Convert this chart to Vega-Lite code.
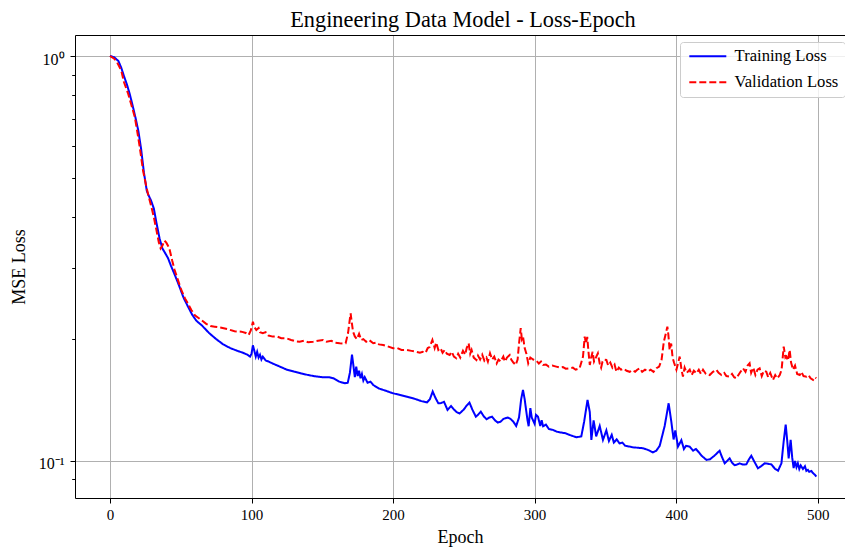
{
  "$schema": "https://vega.github.io/schema/vega-lite/v6.json",
  "width": 770,
  "height": 463,
  "autosize": {"type": "none"},
  "padding": {"left": 75, "top": 35, "right": 0, "bottom": 53},
  "background": "white",
  "title": {"text": "Engineering Data Model - Loss-Epoch", "font": "Liberation Serif", "fontSize": 22.3, "fontWeight": "normal", "color": "black", "anchor": "middle", "offset": 4, "dx": 3},
  "config": {
    "font": "Liberation Serif",
    "view": {"stroke": null},
    "legend": {
      "orient": "none", "legendX": 605, "legendY": 7, "title": null,
      "symbolType": "M-1,0H6.4", "symbolSize": 100, "symbolStrokeWidth": 2, "symbolFillColor": "transparent",
      "labelFont": "Liberation Serif", "labelFontSize": 16.6, "labelColor": "black",
      "labelOffset": 32, "rowPadding": 9, "padding": 6,
      "strokeColor": "#cccccc", "fillColor": "rgba(255,255,255,0.8)", "cornerRadius": 3
    }
  },
  "resolve": {"axis": {"x": "independent"}},
  "layer": [
    {
      "data": {"values": [
        {"s":"Training Loss","e":0,"l":1.0},{"s":"Training Loss","e":3,"l":0.993},{"s":"Training Loss","e":6,"l":0.972},{"s":"Training Loss","e":8,"l":0.935},{"s":"Training Loss","e":10,"l":0.89},{"s":"Training Loss","e":12,"l":0.85},{"s":"Training Loss","e":14,"l":0.805},{"s":"Training Loss","e":16,"l":0.755},{"s":"Training Loss","e":18,"l":0.705},{"s":"Training Loss","e":20,"l":0.655},{"s":"Training Loss","e":22,"l":0.59},{"s":"Training Loss","e":24,"l":0.515},{"s":"Training Loss","e":25,"l":0.49},{"s":"Training Loss","e":26,"l":0.465},{"s":"Training Loss","e":27,"l":0.455},{"s":"Training Loss","e":29,"l":0.44},{"s":"Training Loss","e":31,"l":0.42},{"s":"Training Loss","e":33,"l":0.385},{"s":"Training Loss","e":35,"l":0.355},{"s":"Training Loss","e":37,"l":0.335},{"s":"Training Loss","e":39,"l":0.326},{"s":"Training Loss","e":41,"l":0.317},{"s":"Training Loss","e":43,"l":0.304},{"s":"Training Loss","e":46,"l":0.287},{"s":"Training Loss","e":49,"l":0.27},{"s":"Training Loss","e":52,"l":0.253},{"s":"Training Loss","e":55,"l":0.241},{"s":"Training Loss","e":58,"l":0.23},{"s":"Training Loss","e":61,"l":0.222},{"s":"Training Loss","e":65,"l":0.216},{"s":"Training Loss","e":70,"l":0.207},{"s":"Training Loss","e":75,"l":0.2},{"s":"Training Loss","e":80,"l":0.194},{"s":"Training Loss","e":85,"l":0.19},{"s":"Training Loss","e":90,"l":0.187},{"s":"Training Loss","e":94,"l":0.185},{"s":"Training Loss","e":97,"l":0.183},{"s":"Training Loss","e":99,"l":0.181},{"s":"Training Loss","e":100,"l":0.184},{"s":"Training Loss","e":101,"l":0.193},{"s":"Training Loss","e":102,"l":0.187},{"s":"Training Loss","e":103,"l":0.181},{"s":"Training Loss","e":104,"l":0.186},{"s":"Training Loss","e":105,"l":0.18},{"s":"Training Loss","e":106,"l":0.183},{"s":"Training Loss","e":107,"l":0.178},{"s":"Training Loss","e":108,"l":0.181},{"s":"Training Loss","e":110,"l":0.177},{"s":"Training Loss","e":112,"l":0.176},{"s":"Training Loss","e":115,"l":0.174},{"s":"Training Loss","e":120,"l":0.171},{"s":"Training Loss","e":125,"l":0.168},{"s":"Training Loss","e":130,"l":0.1662},{"s":"Training Loss","e":135,"l":0.1645},{"s":"Training Loss","e":140,"l":0.163},{"s":"Training Loss","e":145,"l":0.1618},{"s":"Training Loss","e":150,"l":0.161},{"s":"Training Loss","e":155,"l":0.161},{"s":"Training Loss","e":158,"l":0.16},{"s":"Training Loss","e":162,"l":0.157},{"s":"Training Loss","e":166,"l":0.1555},{"s":"Training Loss","e":168,"l":0.156},{"s":"Training Loss","e":169.5,"l":0.165},{"s":"Training Loss","e":171,"l":0.183},{"s":"Training Loss","e":172,"l":0.172},{"s":"Training Loss","e":173,"l":0.161},{"s":"Training Loss","e":174,"l":0.171},{"s":"Training Loss","e":175,"l":0.162},{"s":"Training Loss","e":176,"l":0.167},{"s":"Training Loss","e":177,"l":0.16},{"s":"Training Loss","e":178,"l":0.164},{"s":"Training Loss","e":179,"l":0.158},{"s":"Training Loss","e":180,"l":0.161},{"s":"Training Loss","e":182,"l":0.156},{"s":"Training Loss","e":184,"l":0.157},{"s":"Training Loss","e":186,"l":0.154},{"s":"Training Loss","e":190,"l":0.151},{"s":"Training Loss","e":195,"l":0.149},{"s":"Training Loss","e":200,"l":0.1469},{"s":"Training Loss","e":205,"l":0.1455},{"s":"Training Loss","e":210,"l":0.144},{"s":"Training Loss","e":215,"l":0.1425},{"s":"Training Loss","e":220,"l":0.1405},{"s":"Training Loss","e":224,"l":0.1395},{"s":"Training Loss","e":226,"l":0.142},{"s":"Training Loss","e":228,"l":0.1484},{"s":"Training Loss","e":230,"l":0.143},{"s":"Training Loss","e":232,"l":0.1388},{"s":"Training Loss","e":234,"l":0.139},{"s":"Training Loss","e":236,"l":0.14},{"s":"Training Loss","e":238.5,"l":0.1336},{"s":"Training Loss","e":241,"l":0.1367},{"s":"Training Loss","e":243,"l":0.134},{"s":"Training Loss","e":245,"l":0.132},{"s":"Training Loss","e":247,"l":0.131},{"s":"Training Loss","e":250,"l":0.134},{"s":"Training Loss","e":252,"l":0.137},{"s":"Training Loss","e":254,"l":0.1393},{"s":"Training Loss","e":256,"l":0.134},{"s":"Training Loss","e":258.5,"l":0.1286},{"s":"Training Loss","e":260,"l":0.13},{"s":"Training Loss","e":262,"l":0.1323},{"s":"Training Loss","e":264,"l":0.129},{"s":"Training Loss","e":266,"l":0.1268},{"s":"Training Loss","e":268,"l":0.128},{"s":"Training Loss","e":270,"l":0.1286},{"s":"Training Loss","e":272,"l":0.126},{"s":"Training Loss","e":274,"l":0.1244},{"s":"Training Loss","e":276,"l":0.125},{"s":"Training Loss","e":278,"l":0.127},{"s":"Training Loss","e":281,"l":0.128},{"s":"Training Loss","e":283,"l":0.127},{"s":"Training Loss","e":285,"l":0.125},{"s":"Training Loss","e":287,"l":0.122},{"s":"Training Loss","e":289,"l":0.128},{"s":"Training Loss","e":290.5,"l":0.142},{"s":"Training Loss","e":291.8,"l":0.1497},{"s":"Training Loss","e":293,"l":0.142},{"s":"Training Loss","e":294,"l":0.1336},{"s":"Training Loss","e":295,"l":0.126},{"s":"Training Loss","e":295.8,"l":0.1218},{"s":"Training Loss","e":297,"l":0.135},{"s":"Training Loss","e":298,"l":0.128},{"s":"Training Loss","e":300,"l":0.1235},{"s":"Training Loss","e":301,"l":0.13},{"s":"Training Loss","e":302.4,"l":0.1286},{"s":"Training Loss","e":304,"l":0.122},{"s":"Training Loss","e":305,"l":0.126},{"s":"Training Loss","e":306,"l":0.1218},{"s":"Training Loss","e":308,"l":0.123},{"s":"Training Loss","e":310,"l":0.12},{"s":"Training Loss","e":313,"l":0.1193},{"s":"Training Loss","e":316,"l":0.118},{"s":"Training Loss","e":319,"l":0.1175},{"s":"Training Loss","e":322,"l":0.117},{"s":"Training Loss","e":326,"l":0.1155},{"s":"Training Loss","e":329.5,"l":0.1144},{"s":"Training Loss","e":333,"l":0.115},{"s":"Training Loss","e":335,"l":0.125},{"s":"Training Loss","e":337.4,"l":0.1415},{"s":"Training Loss","e":339,"l":0.132},{"s":"Training Loss","e":340.1,"l":0.1127},{"s":"Training Loss","e":341.7,"l":0.126},{"s":"Training Loss","e":343.5,"l":0.115},{"s":"Training Loss","e":346,"l":0.122},{"s":"Training Loss","e":348.3,"l":0.1127},{"s":"Training Loss","e":350.7,"l":0.119},{"s":"Training Loss","e":352.5,"l":0.112},{"s":"Training Loss","e":354.5,"l":0.116},{"s":"Training Loss","e":356,"l":0.111},{"s":"Training Loss","e":358,"l":0.113},{"s":"Training Loss","e":360,"l":0.1105},{"s":"Training Loss","e":362,"l":0.111},{"s":"Training Loss","e":364,"l":0.109},{"s":"Training Loss","e":367,"l":0.1085},{"s":"Training Loss","e":370,"l":0.108},{"s":"Training Loss","e":373,"l":0.1078},{"s":"Training Loss","e":376.6,"l":0.1075},{"s":"Training Loss","e":380,"l":0.1065},{"s":"Training Loss","e":383.6,"l":0.105},{"s":"Training Loss","e":386,"l":0.106},{"s":"Training Loss","e":388.4,"l":0.109},{"s":"Training Loss","e":391.9,"l":0.122},{"s":"Training Loss","e":394.7,"l":0.1388},{"s":"Training Loss","e":396.6,"l":0.125},{"s":"Training Loss","e":398.2,"l":0.113},{"s":"Training Loss","e":399.4,"l":0.119},{"s":"Training Loss","e":401.3,"l":0.1085},{"s":"Training Loss","e":403.7,"l":0.1125},{"s":"Training Loss","e":405.5,"l":0.107},{"s":"Training Loss","e":407,"l":0.109},{"s":"Training Loss","e":409.6,"l":0.1085},{"s":"Training Loss","e":412,"l":0.106},{"s":"Training Loss","e":414,"l":0.107},{"s":"Training Loss","e":416.6,"l":0.1045},{"s":"Training Loss","e":418,"l":0.103},{"s":"Training Loss","e":421.4,"l":0.1006},{"s":"Training Loss","e":424,"l":0.101},{"s":"Training Loss","e":427,"l":0.103},{"s":"Training Loss","e":430.7,"l":0.106},{"s":"Training Loss","e":432,"l":0.103},{"s":"Training Loss","e":434.3,"l":0.0987},{"s":"Training Loss","e":436,"l":0.1},{"s":"Training Loss","e":437.8,"l":0.1015},{"s":"Training Loss","e":439.5,"l":0.099},{"s":"Training Loss","e":441.3,"l":0.0976},{"s":"Training Loss","e":443,"l":0.098},{"s":"Training Loss","e":444.9,"l":0.0986},{"s":"Training Loss","e":447,"l":0.098},{"s":"Training Loss","e":449.6,"l":0.0981},{"s":"Training Loss","e":451.5,"l":0.101},{"s":"Training Loss","e":453.1,"l":0.103},{"s":"Training Loss","e":455,"l":0.1},{"s":"Training Loss","e":457.8,"l":0.0959},{"s":"Training Loss","e":460,"l":0.097},{"s":"Training Loss","e":462.6,"l":0.0987},{"s":"Training Loss","e":465,"l":0.0984},{"s":"Training Loss","e":467.3,"l":0.098},{"s":"Training Loss","e":470,"l":0.0955},{"s":"Training Loss","e":472,"l":0.0946},{"s":"Training Loss","e":474.4,"l":0.0987},{"s":"Training Loss","e":476,"l":0.112},{"s":"Training Loss","e":477.4,"l":0.123},{"s":"Training Loss","e":478.5,"l":0.112},{"s":"Training Loss","e":479.5,"l":0.1015},{"s":"Training Loss","e":480.9,"l":0.1127},{"s":"Training Loss","e":482,"l":0.102},{"s":"Training Loss","e":483,"l":0.096},{"s":"Training Loss","e":484,"l":0.1},{"s":"Training Loss","e":485,"l":0.0965},{"s":"Training Loss","e":486,"l":0.0987},{"s":"Training Loss","e":487,"l":0.0955},{"s":"Training Loss","e":488,"l":0.0975},{"s":"Training Loss","e":489.6,"l":0.0955},{"s":"Training Loss","e":491,"l":0.097},{"s":"Training Loss","e":492,"l":0.0945},{"s":"Training Loss","e":493.1,"l":0.095},{"s":"Training Loss","e":494,"l":0.094},{"s":"Training Loss","e":495.5,"l":0.0945},{"s":"Training Loss","e":496.7,"l":0.0933},{"s":"Training Loss","e":498,"l":0.0925},{"s":"Training Loss","e":499,"l":0.0915},
        {"s":"Validation Loss","e":0,"l":1.0},{"s":"Validation Loss","e":3,"l":0.985},{"s":"Validation Loss","e":5,"l":0.965},{"s":"Validation Loss","e":8,"l":0.92},{"s":"Validation Loss","e":10,"l":0.86},{"s":"Validation Loss","e":12.7,"l":0.81},{"s":"Validation Loss","e":15,"l":0.76},{"s":"Validation Loss","e":17.5,"l":0.708},{"s":"Validation Loss","e":19,"l":0.66},{"s":"Validation Loss","e":21,"l":0.597},{"s":"Validation Loss","e":23.3,"l":0.523},{"s":"Validation Loss","e":25.7,"l":0.4757},{"s":"Validation Loss","e":27,"l":0.455},{"s":"Validation Loss","e":29.2,"l":0.425},{"s":"Validation Loss","e":31,"l":0.4},{"s":"Validation Loss","e":32.8,"l":0.372},{"s":"Validation Loss","e":34.5,"l":0.347},{"s":"Validation Loss","e":35.8,"l":0.335},{"s":"Validation Loss","e":37,"l":0.34},{"s":"Validation Loss","e":38.5,"l":0.35},{"s":"Validation Loss","e":39.8,"l":0.346},{"s":"Validation Loss","e":41,"l":0.34},{"s":"Validation Loss","e":42.2,"l":0.332},{"s":"Validation Loss","e":44,"l":0.312},{"s":"Validation Loss","e":45.7,"l":0.296},{"s":"Validation Loss","e":48,"l":0.28},{"s":"Validation Loss","e":50.4,"l":0.2644},{"s":"Validation Loss","e":53,"l":0.252},{"s":"Validation Loss","e":55,"l":0.245},{"s":"Validation Loss","e":57.5,"l":0.236},{"s":"Validation Loss","e":60,"l":0.229},{"s":"Validation Loss","e":64.6,"l":0.2228},{"s":"Validation Loss","e":68,"l":0.218},{"s":"Validation Loss","e":71,"l":0.2155},{"s":"Validation Loss","e":74,"l":0.2146},{"s":"Validation Loss","e":78,"l":0.2135},{"s":"Validation Loss","e":83.4,"l":0.2115},{"s":"Validation Loss","e":88,"l":0.209},{"s":"Validation Loss","e":92.8,"l":0.2086},{"s":"Validation Loss","e":96,"l":0.207},{"s":"Validation Loss","e":98,"l":0.2047},{"s":"Validation Loss","e":99.5,"l":0.21},{"s":"Validation Loss","e":101,"l":0.2207},{"s":"Validation Loss","e":102,"l":0.214},{"s":"Validation Loss","e":103.4,"l":0.2106},{"s":"Validation Loss","e":105,"l":0.213},{"s":"Validation Loss","e":106,"l":0.208},{"s":"Validation Loss","e":108,"l":0.2069},{"s":"Validation Loss","e":110,"l":0.208},{"s":"Validation Loss","e":112,"l":0.204},{"s":"Validation Loss","e":115,"l":0.2028},{"s":"Validation Loss","e":118,"l":0.203},{"s":"Validation Loss","e":121,"l":0.201},{"s":"Validation Loss","e":124.6,"l":0.2009},{"s":"Validation Loss","e":128,"l":0.199},{"s":"Validation Loss","e":131,"l":0.1975},{"s":"Validation Loss","e":134,"l":0.197},{"s":"Validation Loss","e":137,"l":0.198},{"s":"Validation Loss","e":140,"l":0.1965},{"s":"Validation Loss","e":143.5,"l":0.197},{"s":"Validation Loss","e":147,"l":0.198},{"s":"Validation Loss","e":150.5,"l":0.199},{"s":"Validation Loss","e":153,"l":0.197},{"s":"Validation Loss","e":156.4,"l":0.198},{"s":"Validation Loss","e":159,"l":0.196},{"s":"Validation Loss","e":162.3,"l":0.1953},{"s":"Validation Loss","e":165,"l":0.195},{"s":"Validation Loss","e":166.5,"l":0.1953},{"s":"Validation Loss","e":168.2,"l":0.2069},{"s":"Validation Loss","e":170,"l":0.2316},{"s":"Validation Loss","e":171.7,"l":0.2087},{"s":"Validation Loss","e":173,"l":0.203},{"s":"Validation Loss","e":174.5,"l":0.2},{"s":"Validation Loss","e":176,"l":0.206},{"s":"Validation Loss","e":177.5,"l":0.199},{"s":"Validation Loss","e":179,"l":0.2},{"s":"Validation Loss","e":181,"l":0.197},{"s":"Validation Loss","e":183,"l":0.199},{"s":"Validation Loss","e":186,"l":0.1953},{"s":"Validation Loss","e":188,"l":0.196},{"s":"Validation Loss","e":190,"l":0.194},{"s":"Validation Loss","e":193,"l":0.1934},{"s":"Validation Loss","e":196,"l":0.192},{"s":"Validation Loss","e":200,"l":0.1898},{"s":"Validation Loss","e":203,"l":0.19},{"s":"Validation Loss","e":206,"l":0.188},{"s":"Validation Loss","e":209.4,"l":0.188},{"s":"Validation Loss","e":213,"l":0.187},{"s":"Validation Loss","e":216.5,"l":0.186},{"s":"Validation Loss","e":219,"l":0.185},{"s":"Validation Loss","e":221,"l":0.186},{"s":"Validation Loss","e":223,"l":0.185},{"s":"Validation Loss","e":224.5,"l":0.19},{"s":"Validation Loss","e":225.8,"l":0.191},{"s":"Validation Loss","e":227.8,"l":0.199},{"s":"Validation Loss","e":229.4,"l":0.19},{"s":"Validation Loss","e":230.5,"l":0.196},{"s":"Validation Loss","e":232,"l":0.188},{"s":"Validation Loss","e":233.5,"l":0.19},{"s":"Validation Loss","e":235,"l":0.185},{"s":"Validation Loss","e":236.5,"l":0.188},{"s":"Validation Loss","e":238,"l":0.184},{"s":"Validation Loss","e":240,"l":0.1827},{"s":"Validation Loss","e":241.5,"l":0.186},{"s":"Validation Loss","e":243,"l":0.181},{"s":"Validation Loss","e":244.7,"l":0.1793},{"s":"Validation Loss","e":246,"l":0.184},{"s":"Validation Loss","e":247.5,"l":0.18},{"s":"Validation Loss","e":249.4,"l":0.187},{"s":"Validation Loss","e":251,"l":0.183},{"s":"Validation Loss","e":252,"l":0.19},{"s":"Validation Loss","e":253.4,"l":0.1953},{"s":"Validation Loss","e":254.5,"l":0.184},{"s":"Validation Loss","e":255.5,"l":0.188},{"s":"Validation Loss","e":257,"l":0.18},{"s":"Validation Loss","e":258.9,"l":0.1776},{"s":"Validation Loss","e":260,"l":0.182},{"s":"Validation Loss","e":261.5,"l":0.178},{"s":"Validation Loss","e":263,"l":0.183},{"s":"Validation Loss","e":264.5,"l":0.177},{"s":"Validation Loss","e":266,"l":0.18},{"s":"Validation Loss","e":267,"l":0.176},{"s":"Validation Loss","e":268.5,"l":0.1845},{"s":"Validation Loss","e":270,"l":0.178},{"s":"Validation Loss","e":271.5,"l":0.181},{"s":"Validation Loss","e":273.2,"l":0.1742},{"s":"Validation Loss","e":274.5,"l":0.178},{"s":"Validation Loss","e":276,"l":0.176},{"s":"Validation Loss","e":277.9,"l":0.181},{"s":"Validation Loss","e":279,"l":0.176},{"s":"Validation Loss","e":280.5,"l":0.18},{"s":"Validation Loss","e":282.4,"l":0.1827},{"s":"Validation Loss","e":283.5,"l":0.178},{"s":"Validation Loss","e":285,"l":0.175},{"s":"Validation Loss","e":286.6,"l":0.1726},{"s":"Validation Loss","e":288,"l":0.178},{"s":"Validation Loss","e":289,"l":0.195},{"s":"Validation Loss","e":290.2,"l":0.2127},{"s":"Validation Loss","e":291,"l":0.2},{"s":"Validation Loss","e":291.8,"l":0.2028},{"s":"Validation Loss","e":293,"l":0.19},{"s":"Validation Loss","e":294.2,"l":0.184},{"s":"Validation Loss","e":295.5,"l":0.1742},{"s":"Validation Loss","e":297,"l":0.18},{"s":"Validation Loss","e":297.7,"l":0.1793},{"s":"Validation Loss","e":299,"l":0.178},{"s":"Validation Loss","e":301.2,"l":0.177},{"s":"Validation Loss","e":303,"l":0.174},{"s":"Validation Loss","e":304.5,"l":0.176},{"s":"Validation Loss","e":305.9,"l":0.1726},{"s":"Validation Loss","e":308,"l":0.173},{"s":"Validation Loss","e":310,"l":0.171},{"s":"Validation Loss","e":312.5,"l":0.172},{"s":"Validation Loss","e":315.3,"l":0.171},{"s":"Validation Loss","e":318,"l":0.17},{"s":"Validation Loss","e":320,"l":0.1705},{"s":"Validation Loss","e":322,"l":0.169},{"s":"Validation Loss","e":324.7,"l":0.1694},{"s":"Validation Loss","e":327,"l":0.17},{"s":"Validation Loss","e":329,"l":0.168},{"s":"Validation Loss","e":331.8,"l":0.1694},{"s":"Validation Loss","e":333,"l":0.175},{"s":"Validation Loss","e":334.2,"l":0.181},{"s":"Validation Loss","e":335.4,"l":0.2027},{"s":"Validation Loss","e":336.3,"l":0.195},{"s":"Validation Loss","e":337.2,"l":0.2025},{"s":"Validation Loss","e":338,"l":0.187},{"s":"Validation Loss","e":339,"l":0.1726},{"s":"Validation Loss","e":340,"l":0.18},{"s":"Validation Loss","e":341,"l":0.186},{"s":"Validation Loss","e":342,"l":0.176},{"s":"Validation Loss","e":343,"l":0.179},{"s":"Validation Loss","e":344.7,"l":0.1845},{"s":"Validation Loss","e":346,"l":0.174},{"s":"Validation Loss","e":347,"l":0.17},{"s":"Validation Loss","e":348,"l":0.176},{"s":"Validation Loss","e":349,"l":0.178},{"s":"Validation Loss","e":350.7,"l":0.1776},{"s":"Validation Loss","e":352,"l":0.172},{"s":"Validation Loss","e":353.5,"l":0.175},{"s":"Validation Loss","e":355,"l":0.17},{"s":"Validation Loss","e":356.5,"l":0.173},{"s":"Validation Loss","e":357.8,"l":0.1661},{"s":"Validation Loss","e":359.5,"l":0.17},{"s":"Validation Loss","e":361,"l":0.168},{"s":"Validation Loss","e":363,"l":0.169},{"s":"Validation Loss","e":365,"l":0.167},{"s":"Validation Loss","e":367.2,"l":0.166},{"s":"Validation Loss","e":369,"l":0.1675},{"s":"Validation Loss","e":371,"l":0.166},{"s":"Validation Loss","e":372.5,"l":0.168},{"s":"Validation Loss","e":374.3,"l":0.1694},{"s":"Validation Loss","e":376,"l":0.166},{"s":"Validation Loss","e":378,"l":0.168},{"s":"Validation Loss","e":380.2,"l":0.1665},{"s":"Validation Loss","e":382,"l":0.168},{"s":"Validation Loss","e":384,"l":0.166},{"s":"Validation Loss","e":386.1,"l":0.1694},{"s":"Validation Loss","e":388,"l":0.171},{"s":"Validation Loss","e":389.7,"l":0.1776},{"s":"Validation Loss","e":391.3,"l":0.197},{"s":"Validation Loss","e":392.5,"l":0.205},{"s":"Validation Loss","e":393.8,"l":0.2146},{"s":"Validation Loss","e":394.5,"l":0.205},{"s":"Validation Loss","e":395.4,"l":0.188},{"s":"Validation Loss","e":396.5,"l":0.195},{"s":"Validation Loss","e":397.5,"l":0.18},{"s":"Validation Loss","e":398.5,"l":0.175},{"s":"Validation Loss","e":400.2,"l":0.168},{"s":"Validation Loss","e":401.5,"l":0.175},{"s":"Validation Loss","e":402.5,"l":0.181},{"s":"Validation Loss","e":403.8,"l":0.168},{"s":"Validation Loss","e":404.8,"l":0.1615},{"s":"Validation Loss","e":406,"l":0.17},{"s":"Validation Loss","e":407.5,"l":0.165},{"s":"Validation Loss","e":409.6,"l":0.168},{"s":"Validation Loss","e":411,"l":0.163},{"s":"Validation Loss","e":412.5,"l":0.167},{"s":"Validation Loss","e":414.3,"l":0.1646},{"s":"Validation Loss","e":416,"l":0.168},{"s":"Validation Loss","e":417.5,"l":0.164},{"s":"Validation Loss","e":419,"l":0.168},{"s":"Validation Loss","e":421,"l":0.164},{"s":"Validation Loss","e":423.7,"l":0.163},{"s":"Validation Loss","e":426,"l":0.166},{"s":"Validation Loss","e":428.4,"l":0.168},{"s":"Validation Loss","e":430,"l":0.165},{"s":"Validation Loss","e":432,"l":0.163},{"s":"Validation Loss","e":434,"l":0.165},{"s":"Validation Loss","e":435.5,"l":0.162},{"s":"Validation Loss","e":437.8,"l":0.1615},{"s":"Validation Loss","e":439.5,"l":0.164},{"s":"Validation Loss","e":441,"l":0.161},{"s":"Validation Loss","e":442.6,"l":0.16},{"s":"Validation Loss","e":444,"l":0.163},{"s":"Validation Loss","e":445.5,"l":0.166},{"s":"Validation Loss","e":447.2,"l":0.1694},{"s":"Validation Loss","e":449,"l":0.166},{"s":"Validation Loss","e":450.5,"l":0.172},{"s":"Validation Loss","e":451.9,"l":0.1742},{"s":"Validation Loss","e":453,"l":0.165},{"s":"Validation Loss","e":454.5,"l":0.17},{"s":"Validation Loss","e":456,"l":0.163},{"s":"Validation Loss","e":457.5,"l":0.168},{"s":"Validation Loss","e":459,"l":0.1694},{"s":"Validation Loss","e":460.5,"l":0.162},{"s":"Validation Loss","e":462,"l":0.167},{"s":"Validation Loss","e":463.7,"l":0.1661},{"s":"Validation Loss","e":465,"l":0.161},{"s":"Validation Loss","e":466.5,"l":0.165},{"s":"Validation Loss","e":468.4,"l":0.1585},{"s":"Validation Loss","e":470,"l":0.163},{"s":"Validation Loss","e":471.5,"l":0.16},{"s":"Validation Loss","e":473.2,"l":0.163},{"s":"Validation Loss","e":474.5,"l":0.168},{"s":"Validation Loss","e":476,"l":0.1915},{"s":"Validation Loss","e":477.2,"l":0.18},{"s":"Validation Loss","e":477.9,"l":0.181},{"s":"Validation Loss","e":479,"l":0.177},{"s":"Validation Loss","e":480.2,"l":0.188},{"s":"Validation Loss","e":481.2,"l":0.175},{"s":"Validation Loss","e":482.6,"l":0.168},{"s":"Validation Loss","e":484,"l":0.172},{"s":"Validation Loss","e":485.5,"l":0.164},{"s":"Validation Loss","e":487.3,"l":0.163},{"s":"Validation Loss","e":488.5,"l":0.166},{"s":"Validation Loss","e":490,"l":0.162},{"s":"Validation Loss","e":492,"l":0.1615},{"s":"Validation Loss","e":493.5,"l":0.163},{"s":"Validation Loss","e":495,"l":0.16},{"s":"Validation Loss","e":496.7,"l":0.1585},{"s":"Validation Loss","e":498,"l":0.161},{"s":"Validation Loss","e":499,"l":0.16}
      ]},
      "mark": {"type": "line", "strokeWidth": 2},
      "encoding": {
        "x": {"field": "e", "type": "quantitative",
          "scale": {"domain": [-24.7, 519.3], "nice": false, "zero": false},
          "axis": {"orient": "bottom", "values": [0,100,200,300,400,500], "format": "d",
            "labelFont": "Liberation Serif", "labelFontSize": 15, "labelColor": "black", "labelPadding": 4,
            "tickColor": "black", "tickSize": 5, "tickWidth": 1, "domainColor": "black", "domainWidth": 1,
            "grid": true, "gridColor": "#b0b0b0", "gridWidth": 1,
            "title": "Epoch", "titleFont": "Liberation Serif", "titleFontSize": 18, "titleFontWeight": "normal", "titleColor": "black", "titlePadding": 6}},
        "y": {"field": "l", "type": "quantitative",
          "scale": {"type": "log", "domain": [0.081, 1.127], "nice": false},
          "axis": {"values": [0.09,0.1,0.2,0.3,0.4,0.5,0.6,0.7,0.8,0.9,1],
            "labelExpr": "datum.value === 1 ? '10⁰' : (datum.value === 0.1 ? '10⁻¹' : '')",
            "labelOverlap": false, "labelBound": false,
            "labelFont": "Liberation Serif", "labelFontSize": 16, "labelColor": "black", "labelPadding": 6, "labelOffset": 3,
            "tickColor": "black", "tickWidth": 1,
            "tickSize": {"condition": {"test": "datum.value === 1 || datum.value === 0.1", "value": 5}, "value": 3.3},
            "domainColor": "black", "domainWidth": 1,
            "grid": true, "gridColor": "#b0b0b0", "gridWidth": 1,
            "gridOpacity": {"condition": {"test": "datum.value === 1 || datum.value === 0.1", "value": 1}, "value": 0},
            "title": "MSE Loss", "titleFont": "Liberation Serif", "titleFontSize": 18, "titleFontWeight": "normal", "titleColor": "black", "titlePadding": 10}},
        "color": {"field": "s", "type": "nominal",
          "scale": {"domain": ["Training Loss", "Validation Loss"], "range": ["#0000ff", "#ff0000"]},
          "legend": {"title": null}},
        "strokeDash": {"field": "s", "type": "nominal",
          "scale": {"domain": ["Training Loss", "Validation Loss"], "range": [[1, 0], [7, 3]]},
          "legend": {"title": null}}
      }
    },
    {
      "data": {"values": [{"e": 0}]},
      "mark": {"type": "rule", "opacity": 0},
      "encoding": {
        "x": {"field": "e", "type": "quantitative",
          "scale": {"domain": [-24.7, 519.3], "nice": false, "zero": false},
          "axis": {"orient": "top", "labels": false, "ticks": false, "grid": false, "domain": true, "domainColor": "black", "domainWidth": 1, "title": null}}
      }
    }
  ]
}
